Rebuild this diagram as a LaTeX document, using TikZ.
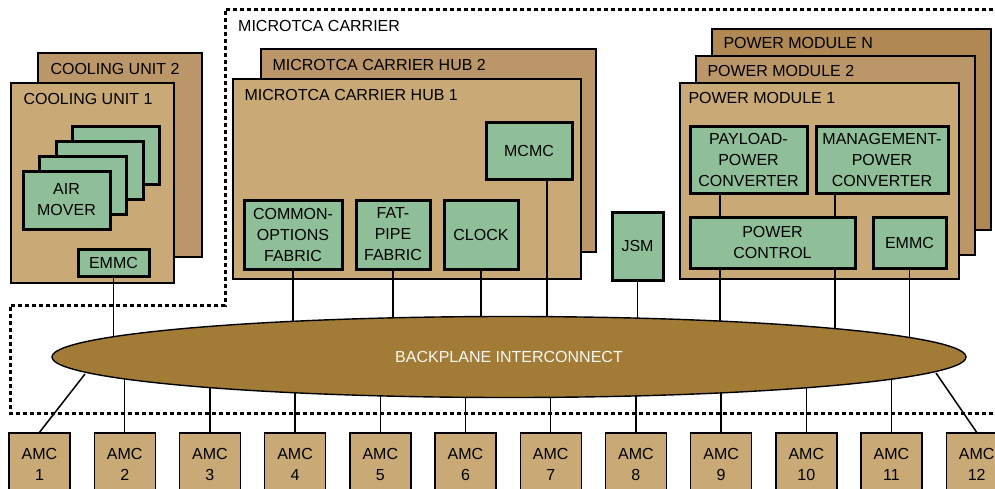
\documentclass[tikz,border=0pt]{standalone}
\usepackage{fontspec}
\setmainfont{Liberation Sans}
\usepackage{tikz}
\usetikzlibrary{shapes.geometric}
\definecolor{tanA}{HTML}{C9A976}
\definecolor{tanB}{HTML}{BB9668}
\definecolor{tanC}{HTML}{AF8854}
\definecolor{mint}{HTML}{8FBF99}
\definecolor{bronze}{HTML}{A27C37}
\begin{document}
\begin{tikzpicture}[x=1pt,y=-1pt,font=\fontsize{16}{21}\selectfont,
unit/.style n args={3}{draw,line width=1.4pt,fill=#1,minimum width=#2,minimum height=#3,inner sep=0pt},
part/.style 2 args={draw,line width=3pt,fill=mint,minimum width=#1,minimum height=#2,align=center,inner sep=0pt},
amc/.style={draw,line width=1.4pt,fill=tanA,minimum width=61,minimum height=62,align=center,inner sep=0pt},
title/.style={anchor=base west,inner sep=0pt},
wire/.style={line width=1.5pt},
carrier/.style={line width=3pt,dash pattern=on 4pt off 3pt}]
\useasboundingbox (0,0) rectangle (995,488);
\clip (0,0) rectangle (995,488);
\node[unit={tanB}{164}{204}] (cu2) at (120,155) {};
\node[title] (cu2t) at ([shift={(13,22)}]cu2.north west) {COOLING UNIT 2};
\node[unit={tanA}{163}{200}] (cu1) at (92.5,183) {};
\node[title] (cu1t) at ([shift={(13,22)}]cu1.north west) {COOLING UNIT 1};
\foreach \i in {3,2,1} {
   \node[part={87}{58}] (am\i) at ({66.5+16.5*\i},{200-14.7*\i}) {};
}
\node[part={87}{58}] (am) at (66.5,200) {AIR\\MOVER};
\node[part={71}{27}] (cuemmc) at (113.5,262.5) {EMMC};
\node[unit={tanB}{335}{203}] (hub2) at (428.5,150.5) {};
\node[title] (hub2t) at ([shift={(12,22)}]hub2.north west) {MICROTCA CARRIER HUB 2};
\node[unit={tanA}{348}{200}] (hub1) at (407,179) {};
\node[title] (hub1t) at ([shift={(12,22)}]hub1.north west) {MICROTCA CARRIER HUB 1};
\node[part={86}{57}] (mcmc) at (529,150.5) {MCMC};
\node[part={98}{69}] (cof) at (293,234.5) {COMMON-\\OPTIONS\\FABRIC};
\node[part={74}{69}] (fpf) at (393,234.5) {FAT-\\PIPE\\FABRIC};
\node[part={74}{69}] (clk) at (481,234.5) {CLOCK};
\node[part={51}{68}] (jsm) at (637.5,246) {JSM};
\node[unit={tanC}{279}{201}] (pmn) at (851.5,129.5) {};
\node[title] (pmnt) at ([shift={(12,20)}]pmn.north west) {POWER MODULE N};
\node[unit={tanB}{279}{199}] (pm2) at (835.5,155.5) {};
\node[title] (pm2t) at ([shift={(12,21)}]pm2.north west) {POWER MODULE 2};
\node[unit={tanA}{279}{196}] (pm1) at (819.5,181) {};
\node[title] (pm1t) at ([shift={(9,21.5)}]pm1.north west) {POWER MODULE 1};
\node[part={117}{67}] (pay) at (748.5,159.5) {PAYLOAD-\\POWER\\CONVERTER};
\node[part={132}{67}] (mgt) at (882,159.5) {MANAGEMENT-\\POWER\\CONVERTER};
\node[part={165}{51}] (pwr) at (772.5,242.5) {POWER\\CONTROL};
\node[part={73}{51}] (pmemmc) at (909.5,242.5) {EMMC};
\draw[wire] ([xshift=-28.5]pay.south) -- ([xshift=-52.5]pwr.north);
\draw[wire] ([xshift=-47]mgt.south) -- ([xshift=62.5]pwr.north);
\draw[carrier] (1000,9) -- (225,9) -- (225,305) -- (10,305) -- (10,413) -- (1000,413);
\node[title] (mct) at (238,31.5) {MICROTCA CARRIER};
\foreach \i in {1,...,12} {
   \node[amc] (amc\i) at ({39.5+85.2*(\i-1)},464) {AMC\\\i};
}
\coordinate (bpc) at (509,357);
\coordinate (bpl) at (85,374);
\coordinate (bpr) at (936,373);
\foreach \n in {cuemmc,cof,fpf,clk,jsm,pmemmc} {
   \draw[wire] (\n.south) -- (\n.south |- bpc);
}
\draw[wire] ([xshift=18]mcmc.south) -- ([xshift=18]mcmc.south |- bpc);
\draw[wire] ([xshift=-52.5]pwr.south) -- ([xshift=-52.5]pwr.south |- bpc);
\draw[wire] ([xshift=62.5]pwr.south) -- ([xshift=62.5]pwr.south |- bpc);
\foreach \i in {2,...,11} {
   \draw[wire] (amc\i.north) -- (amc\i.north |- bpc);
}
\draw[wire] (amc1.north) -- (bpl);
\draw[wire] (amc12.north) -- (bpr);
\node[ellipse,draw,line width=1.4pt,fill=bronze,minimum width=914,minimum height=81,inner sep=0pt,text=white!95!bronze] (bp) at (bpc) {BACKPLANE INTERCONNECT};
\end{tikzpicture}
\end{document}
